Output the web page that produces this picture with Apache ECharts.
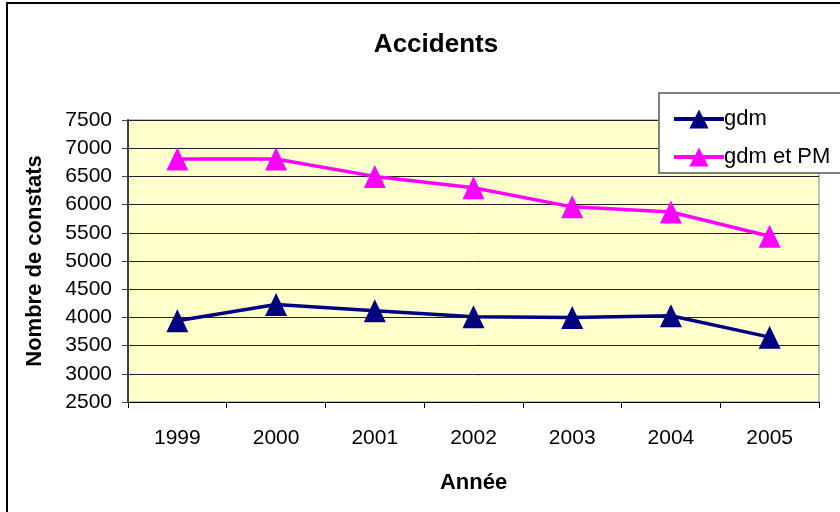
<!DOCTYPE html>
<html>
<head>
<meta charset="utf-8">
<script src="https://cdn.jsdelivr.net/npm/echarts@6/dist/echarts.min.js"></script>
<style>
  html, body { margin: 0; padding: 0; background: #fff; }
  #main { width: 840px; height: 512px; }
</style>
</head>
<body>
<div id="main"></div>
<script>
var years = ['1999', '2000', '2001', '2002', '2003', '2004', '2005'];
var gdm = [3940, 4230, 4120, 4010, 4000, 4030, 3650];
var gdmPM = [6810, 6810, 6500, 6300, 5960, 5870, 5440];

var dom = document.getElementById('main');
var myChart = echarts.init(dom, null, { renderer: 'canvas' });

var font = 'Arial, "Liberation Sans", sans-serif';

var option = {
    animation: false,
    textStyle: { fontFamily: font },
    title: {
        text: 'Accidents',
        left: 431,
        textAlign: 'center',
        top: 27,
        textStyle: { fontSize: 26, fontWeight: 'bold', color: '#000', fontFamily: font }
    },
    graphic: [
        {
            type: 'rect',
            shape: { x: 7, y: 3, width: 900, height: 600 },
            style: { fill: 'none', stroke: '#000', lineWidth: 2 },
            z: 0
        },
        {
            type: 'rect',
            shape: { x: 659, y: 93, width: 200, height: 80 },
            style: { fill: '#fff', stroke: '#808080', lineWidth: 2 },
            z: 5
        }
    ],
    legend: {
        orient: 'vertical',
        left: 667,
        top: 103,
        itemWidth: 50,
        itemHeight: 24,
        itemGap: 16,
        z: 10,
        lineStyle: { width: 4 },
        textStyle: { fontSize: 22, color: '#000', fontFamily: font, padding: [0, 0, 0, -5] },
        data: ['gdm', 'gdm et PM']
    },
    grid: {
        left: 128,
        right: 21,
        top: 120,
        bottom: 110,
        show: true,
        backgroundColor: '#FFFFCC',
        borderColor: '#808080',
        borderWidth: 1
    },
    xAxis: {
        type: 'category',
        data: years,
        boundaryGap: true,
        name: 'Année',
        nameLocation: 'middle',
        nameGap: 70,
        nameTextStyle: { fontSize: 22, fontWeight: 'bold', color: '#000' },
        axisLine: { lineStyle: { color: '#000', width: 1 } },
        axisTick: { show: true, length: 6, lineStyle: { color: '#000' } },
        axisLabel: { fontSize: 21, color: '#000', margin: 26 },
        splitLine: { show: false }
    },
    yAxis: {
        type: 'value',
        min: 2500,
        max: 7500,
        interval: 500,
        name: 'Nombre de constats',
        nameLocation: 'middle',
        nameGap: 82,
        nameTextStyle: { fontSize: 22, fontWeight: 'bold', color: '#000' },
        axisLine: { show: true, lineStyle: { color: '#404040', width: 2 } },
        axisTick: { show: true, length: 6, lineStyle: { color: '#404040' } },
        axisLabel: { fontSize: 21, color: '#000', margin: 16, formatter: function (v) { return String(v); } },
        splitLine: { show: true, lineStyle: { color: '#222', width: 1 } }
    },
    series: [
        {
            name: 'gdm',
            type: 'line',
            data: gdm,
            color: '#000080',
            symbol: 'triangle',
            symbolSize: [22, 23],
            lineStyle: { width: 3.5, color: '#000080' },
            itemStyle: { color: '#000080' }
        },
        {
            name: 'gdm et PM',
            type: 'line',
            data: gdmPM,
            color: '#FF00FF',
            symbol: 'triangle',
            symbolSize: [22, 23],
            lineStyle: { width: 3.5, color: '#FF00FF' },
            itemStyle: { color: '#FF00FF' }
        }
    ]
};

myChart.setOption(option);
window.addEventListener('resize', myChart.resize);
</script>
</body>
</html>
